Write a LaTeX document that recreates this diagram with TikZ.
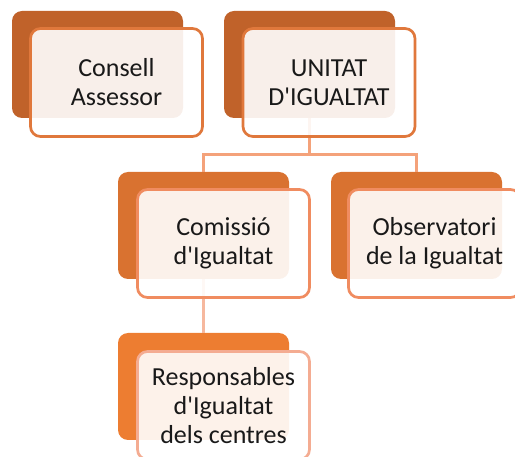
\documentclass[tikz,border=0pt]{standalone}
\usepackage{fontspec}
\setmainfont{Carlito}
\usetikzlibrary{positioning}
\definecolor{backA}{RGB}{192,98,42}
\definecolor{backB}{RGB}{217,114,48}
\definecolor{backC}{RGB}{237,125,49}
\definecolor{lineA}{RGB}{224,120,60}
\definecolor{lineB}{RGB}{240,140,96}
\definecolor{lineC}{RGB}{244,172,146}
\definecolor{linkA}{RGB}{244,162,122}
\definecolor{linkB}{RGB}{246,184,158}
\tikzset
{
    backbox/.style  = {rectangle, rounded corners=10pt, minimum width=171pt, minimum height=107pt, inner sep=0pt},
    frontbox/.style = {rectangle, rounded corners=10pt, draw=#1, line width=2.7pt, fill=white, fill opacity=0.9, text opacity=1, minimum width=172pt, minimum height=108pt, align=center, font=\fontsize{26}{29}\selectfont, text=black!90},
    link/.style     = {draw=#1, line width=3pt}
}

\begin{document}
\begin{tikzpicture}[x=1pt, y=-1pt]
\useasboundingbox (0,0) rectangle (515,457);
% back boxes
\node[backbox, fill=backA] (con-b) at (97.5,64.5) {};
\node[backbox, fill=backA] (uni-b) at (309.5,64.5) {};
\node[backbox, fill=backB] (com-b) at (203.5,225.5) {};
\node[backbox, fill=backB] (obs-b) at (416.5,225.5) {};
\node[backbox, fill=backC] (res-b) at (203.5,386.5) {};
% connectors
\draw[link=linkA] (uni-b.south) -- ++(0,36) coordinate (split);
\draw[link=linkA] (com-b.north) |- (split) -| (obs-b.north);
\draw[link=linkB] (com-b.south) -- (res-b.north);
% front boxes
\node[frontbox=lineA] (con) at (116.5,82.5) {Consell\\Assessor};
\node[frontbox=lineA] (uni) at (329,82.5) {UNITAT\\D\textquotesingle IGUALTAT};
\node[frontbox=lineB] (com) at (223.5,243.5) {Comissió\\d\textquotesingle Igualtat};
\node[frontbox=lineB] (obs) at (434.5,243.5) {Observatori\\de la Igualtat};
\node[frontbox=lineC] (res) at (223.5,405.5) {Responsables\\d\textquotesingle Igualtat\\dels centres};
\end{tikzpicture}
\end{document}
